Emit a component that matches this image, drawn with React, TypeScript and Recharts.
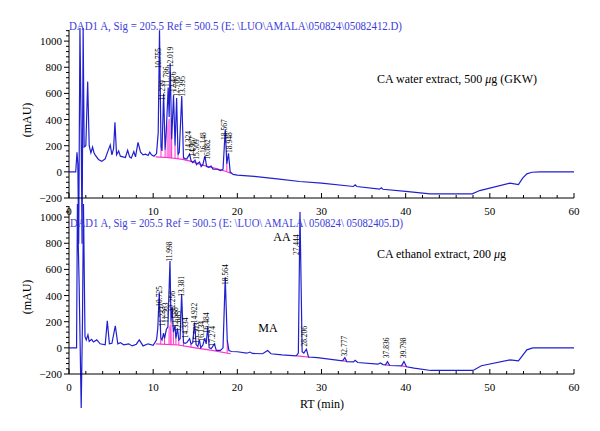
import { ComposedChart, Line, Area, Scatter, XAxis, YAxis, ReferenceLine } from 'recharts';

// ---------------------------------------------------------------------------
// Data (retention time in min, absorbance in mAU)
// ---------------------------------------------------------------------------

const topTrace: [number, number][] = [
  [0, 0], [0.8, 0], [0.95, 150], [1.05, 60], [1.15, -550], [1.3, 1100], [1.45, 300], [1.55, -550],
  [1.68, 1100], [1.8, 190], [2.0, 200], [2.22, 690], [2.4, 200], [2.6, 145], [2.8, 190], [2.95, 150],
  [3.1, 130], [3.5, 95], [3.9, 80], [4.3, 100], [4.6, 155], [4.9, 206], [5.1, 130], [5.3, 180],
  [5.46, 380], [5.65, 130], [5.9, 160], [6.1, 120], [6.4, 115], [6.7, 110], [6.97, 165], [7.2, 115],
  [7.4, 105], [7.7, 155], [7.9, 115], [8.2, 226], [8.5, 150], [8.8, 130], [9.1, 135], [9.4, 125],
  [9.6, 150], [9.8, 130], [10.1, 120], [10.4, 140], [10.6, 300], [10.755, 1083], [10.93, 200],
  [11.05, 160], [11.239, 600], [11.42, 170], [11.55, 300], [11.786, 645], [11.9, 420], [12.019, 830],
  [12.2, 250], [12.42, 585], [12.6, 200], [12.786, 565], [12.95, 130], [13.1, 150], [13.395, 580],
  [13.6, 110], [13.8, 100], [14.0, 100], [14.324, 135], [14.5, 85], [14.7, 70], [14.967, 90],
  [15.15, 55], [15.3, 65], [15.509, 75], [15.7, 40], [15.9, 55], [16.148, 122], [16.35, 40],
  [16.6, 35], [16.882, 45], [17.1, 20], [17.6, 20], [18.0, 10], [18.3, 20], [18.567, 326], [18.75, 60],
  [18.948, 142], [19.15, 0], [19.5, -20], [20, -25], [22, -35], [25, -56], [27.4, -74], [30, -86],
  [33.8, -112], [34.0, -100], [34.2, -112], [36.9, -132], [37.1, -122], [37.3, -133], [40, -150],
  [42.9, -168], [47.9, -168], [48.8, -143], [52.4, -86], [53.4, -98], [53.9, -48], [54.4, -15],
  [55.0, -3], [56, 0], [60, 0],
];

const bottomTrace: [number, number][] = [
  [0, 0], [0.9, 0], [1.0, 1100], [1.2, 500], [1.45, -460], [1.6, 200], [1.72, 1100], [1.9, 86],
  [2.05, 60], [2.25, 99], [2.4, 50], [2.7, 65], [2.9, 45], [3.3, 61], [3.7, 31], [4.3, 23], [4.55, 206],
  [4.8, 31], [5.1, 35], [5.5, 168], [5.8, 31], [6.1, 40], [6.5, 23], [7.1, 31], [7.5, 15], [8.0, 28],
  [8.35, 61], [8.8, 15], [9.4, 31], [10.0, 20], [10.4, 61], [10.55, 150], [10.725, 425], [10.9, 80],
  [11.05, 60], [11.233, 112], [11.35, 70], [11.563, 140], [11.75, 160], [11.998, 664], [12.12, 200],
  [12.256, 315], [12.4, 120], [12.588, 170], [12.7, 70], [12.885, 150], [13.05, 60], [13.2, 70],
  [13.381, 412], [13.6, 40], [13.8, 35], [14.0, 40], [14.334, 70], [14.5, 30], [14.7, 40],
  [14.922, 193], [15.1, 25], [15.3, 10], [15.503, 60], [15.65, 0], [15.9, 20], [16.134, 75],
  [16.3, 30], [16.484, 163], [16.65, 0], [16.9, -5], [17.274, 30], [17.5, -20], [18.0, -20],
  [18.3, 0], [18.564, 539], [18.8, 60], [19.0, -20], [19.3, -28], [20, -30], [21.1, -41], [21.5, -32],
  [21.8, -43], [23.0, -45], [23.6, -20], [24.0, -45], [25.3, -54], [27.0, -61], [27.25, -40],
  [27.444, 1040], [27.7, -30], [27.9, -40], [28.206, -10], [28.45, -70], [29.5, -75], [32.5, -100],
  [32.777, -75], [33.0, -105], [33.8, -108], [34.0, -95], [34.3, -112], [36.7, -125], [37.0, -115],
  [37.3, -128], [37.6, -130], [37.836, -105], [38.1, -135], [39.5, -138], [39.798, -105], [40.1, -145],
  [41, -155], [43, -173], [48, -173], [49, -137], [52.4, -92], [53.4, -100], [54.4, -15], [55.1, 0],
  [60, 0],
];

// integration baselines (null breaks the line)
const topBaseline: [number, number | null][] = [
  [10.3, 115], [12, 108], [13.5, 95], [14.5, 80], [16, 50], [17.5, 25], [18.6, 5], [19.3, -12],
];
const bottomBaseline: [number, number | null][] = [
  [10.3, 30], [13, 22], [15, 0], [17, -20], [19.2, -45], [19.21, null],
  [27.1, -62], [28.6, -72], [28.61, null],
  [32.55, -100], [33.0, -104], [33.01, null],
  [37.55, -130], [38.1, -134], [38.11, null],
  [39.5, -138], [40.1, -144],
];

// shaded areas under co-eluting peaks: [t, low, high]
const topFill: [number, number, number][] = [
  [11.58, 106, 106], [11.62, 106, 330], [11.8, 105, 400], [12.0, 104, 410], [12.17, 103, 260], [12.2, 103, 103],
];
const bottomFill: [number, number, number][] = [
  [11.78, 25, 25], [11.82, 25, 160], [12.0, 24, 175], [12.12, 24, 150], [12.16, 24, 24],
];

// drop lines at valleys: [t, baseline, signal]
const topDrops: [number, number, number][] = [
  [10.93, 112, 200], [11.42, 108, 170], [12.2, 103, 250], [12.6, 100, 200], [12.95, 98, 130],
  [13.6, 93, 110], [14.5, 80, 85], [18.75, 5, 60], [19.15, -8, 0],
];
const bottomDrops: [number, number, number][] = [
  [10.9, 28, 80], [11.35, 27, 70], [12.12, 24, 200], [12.4, 23, 120], [12.7, 21, 70], [13.05, 19, 60],
  [13.6, 12, 40], [14.5, 3, 30], [18.8, -38, 60],
];

// peak labels: [label, t, mAU at the foot of the label]
const topPeaks: [string, number, number][] = [
  ['10.755', 10.58, 790], ['11.239', 11.13, 545], ['11.786', 11.55, 650], ['12.019', 12.07, 800],
  ['12.476', 12.47, 610], ['12.786', 12.83, 575], ['13.395', 13.45, 575], ['14.324', 14.25, 155],
  ['14.967', 14.72, 115], ['15.509', 15.2, 92], ['16.148', 16.0, 145], ['16.882', 16.42, 92],
  ['18.567', 18.42, 244], ['18.948', 19.08, 145],
];
const bottomPeaks: [string, number, number][] = [
  ['10.725', 10.72, 315], ['11.233', 11.09, 163], ['11.563', 11.48, 191], ['11.998', 12.0, 658],
  ['12.256', 12.35, 277], ['12.588', 12.62, 153], ['12.885', 12.98, 124], ['13.381', 13.42, 391],
  ['14.334', 13.86, 74], ['14.922', 14.88, 188], ['15.503', 15.2, 36], ['16.134', 15.76, 48],
  ['16.484', 16.31, 112], ['17.274', 17.02, 10], ['18.564', 18.56, 481], ['27.444', 27.04, 710],
  ['28.206', 28.03, 10], ['32.777', 32.78, -66], ['37.836', 37.73, -79], ['39.798', 39.7, -79],
];

const X_TICKS = [0, 2, 4, 6, 8, 10, 12, 14, 16, 18, 20, 22, 24, 26, 28, 30, 32, 34, 36, 38, 40, 42, 44, 46, 48, 50, 52, 54, 56, 58, 60];
const Y_MAJOR = [-200, 0, 200, 400, 600, 800, 1000];
const Y_TICKS: number[] = [];
for (let v = -200; v <= 1080; v += 40) Y_TICKS.push(v);

// ---------------------------------------------------------------------------
// Styling
// ---------------------------------------------------------------------------
const FONT = '"Liberation Serif", "Times New Roman", serif';
const TRACE = '#2020d0';
const PINK = '#ff30c8';
const TITLE_BLUE = '#3c3cdc';
const W = 600;
const H = 431;

function XTick({ x, y, payload }: any) {
  const major = payload.value % 10 === 0;
  return (
    <g>
      <line x1={x} x2={x} y1={y} y2={y - (major ? 5 : 3)} stroke="#000" strokeWidth={1} />
      {major && (
        <text x={x} y={y + 17} textAnchor="middle" fontSize={11} fontFamily={FONT} fill="#000">
          {payload.value}
        </text>
      )}
    </g>
  );
}

function YTick({ x, y, payload }: any) {
  const major = Y_MAJOR.includes(payload.value);
  return (
    <g>
      <line x1={x} x2={x - (major ? 5 : 3)} y1={y} y2={y} stroke="#000" strokeWidth={1} />
      {major && (
        <text x={x - 7} y={y + 4} textAnchor="end" fontSize={11} fontFamily={FONT} fill="#000">
          {payload.value < 0 ? `\u2212${Math.abs(payload.value)}` : payload.value}
        </text>
      )}
    </g>
  );
}

function PeakLabel(props: any) {
  const { cx, cy, payload } = props;
  if (cx == null || cy == null) return null;
  return (
    <text
      x={cx}
      y={cy}
      transform={`rotate(-90 ${cx} ${cy})`}
      fontSize={7.5}
      fontFamily={FONT}
      fill="#000"
      dominantBaseline="central"
    >
      {payload.label}
    </text>
  );
}

interface PanelProps {
  trace: [number, number][];
  baseline: [number, number | null][];
  fill: [number, number, number][];
  drops: [number, number, number][];
  peaks: [string, number, number][];
  top: number;
  bottom: number;
}

function Panel({ trace, baseline, fill, drops, peaks, top, bottom }: PanelProps) {
  const traceData = trace.map(([t, v]) => ({ t, v }));
  const baseData = baseline.map(([t, v]) => ({ t, b: v }));
  const fillData = fill.map(([t, lo, hi]) => ({ t, r: [lo, hi] }));
  const peakData = peaks.map(([label, t, v]) => ({ t, p: v, label }));
  return (
    <div style={{ position: 'absolute', left: 0, top: 0 }}>
      <ComposedChart width={W} height={H} margin={{ top, right: 26, bottom, left: 29 }}>
        <XAxis
          type="number"
          dataKey="t"
          domain={[0, 60]}
          ticks={X_TICKS}
          interval={0}
          allowDataOverflow
          tick={<XTick />}
          tickLine={false}
          tickSize={0}
          tickMargin={0}
          axisLine={{ stroke: '#000' }}
          height={20}
        />
        <YAxis
          type="number"
          domain={[-200, 1085]}
          ticks={Y_TICKS}
          interval={0}
          allowDataOverflow
          tick={<YTick />}
          tickLine={false}
          tickSize={0}
          tickMargin={0}
          axisLine={{ stroke: '#000' }}
          width={40}
        />
        <Area
          data={fillData}
          dataKey="r"
          type="linear"
          stroke="none"
          fill="#ff70dc"
          fillOpacity={0.85}
          isAnimationActive={false}
        />
        {drops.map(([t, lo, hi]) => (
          <ReferenceLine
            key={t}
            segment={[{ x: t, y: lo }, { x: t, y: hi }]}
            stroke={PINK}
            strokeWidth={1}
          />
        ))}
        <Line
          data={baseData}
          dataKey="b"
          type="linear"
          stroke={PINK}
          strokeWidth={1.2}
          dot={false}
          connectNulls={false}
          isAnimationActive={false}
        />
        <Line
          data={traceData}
          dataKey="v"
          type="linear"
          stroke={TRACE}
          strokeWidth={1.2}
          dot={false}
          className="trace"
          isAnimationActive={false}
        />
        <Scatter data={peakData} dataKey="p" shape={<PeakLabel />} isAnimationActive={false} />
      </ComposedChart>
    </div>
  );
}

export default function App() {
  return (
    <div style={{ position: 'absolute', left: 0, top: 0, width: W, height: H, background: '#fff', fontFamily: FONT }}>
      <style>{`.recharts-line, .recharts-line *, .recharts-area, .recharts-area * { clip-path: none !important; } .recharts-surface { overflow: visible; }`}</style>
      <Panel trace={topTrace} baseline={topBaseline} fill={topFill} drops={topDrops} peaks={topPeaks} top={30} bottom={213} />
      <Panel trace={bottomTrace} baseline={bottomBaseline} fill={bottomFill} drops={bottomDrops} peaks={bottomPeaks} top={206} bottom={37} />
      <svg width={W} height={H} style={{ position: 'absolute', left: 0, top: 0, pointerEvents: 'none' }}>
        <g fontFamily={FONT}>
          <text x={69} y={30} fontSize={12} fill={TITLE_BLUE} textLength={333} lengthAdjust="spacingAndGlyphs">
            DAD1 A, Sig = 205.5 Ref = 500.5 (E: \LUO\AMALA\050824\05082412.D)
          </text>
          <text x={70} y={227} fontSize={12} fill={TITLE_BLUE} textLength={333} lengthAdjust="spacingAndGlyphs">
            DAD1 A, Sig = 205.5 Ref = 500.5 (E: \LUO\ AMALA\ 050824\ 05082405.D)
          </text>
          <text x={377} y={83} fontSize={12} fill="#000">
            CA water extract, 500 <tspan fontStyle="italic">μ</tspan>g (GKW)
          </text>
          <text x={377} y={258} fontSize={12} fill="#000">
            CA ethanol extract, 200 <tspan fontStyle="italic">μ</tspan>g
          </text>
          <text x={282} y={241} fontSize={12} fill="#000" textAnchor="middle">AA</text>
          <text x={268} y={332} fontSize={12} fill="#000" textAnchor="middle">MA</text>
          <text x={31} y={120} fontSize={12} fill="#000" textAnchor="middle" transform="rotate(-90 31 120)">(mAU)</text>
          <text x={31} y={297} fontSize={12} fill="#000" textAnchor="middle" transform="rotate(-90 31 297)">(mAU)</text>
          <text x={322} y={408} fontSize={12} fill="#000" textAnchor="middle">RT (min)</text>
        </g>
      </svg>
    </div>
  );
}
